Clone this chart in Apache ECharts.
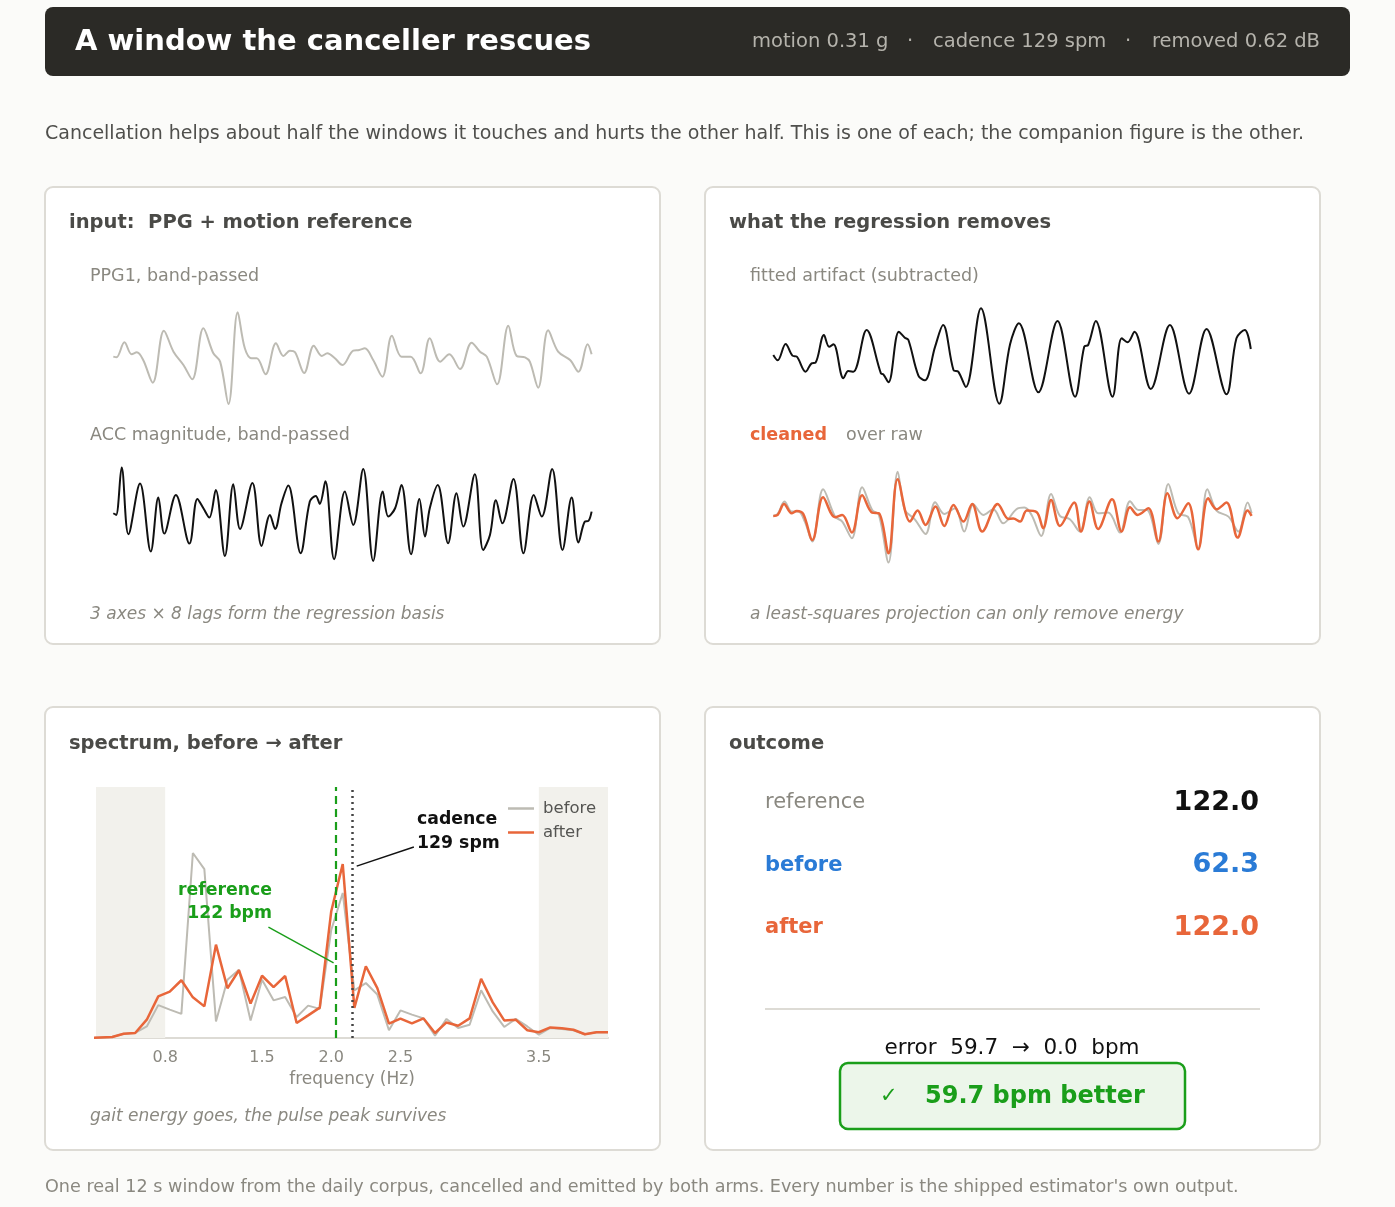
<!DOCTYPE html>
<html>
<head>
<meta charset="utf-8">
<script src="https://cdn.jsdelivr.net/npm/echarts@6/dist/echarts.min.js"></script>
<style>
  html, body { margin: 0; padding: 0; background: #fbfbf9; }
  #main { width: 1395px; height: 1207px; }
</style>
</head>
<body>
<div id="main"></div>
<script>
// time traces: [seconds, normalised amplitude] at each turning point
const ppg = [[0.00,0.00],[0.08,-0.02],[0.28,0.43],[0.46,0.07],[0.59,0.13],[0.75,-0.10],[0.99,-0.78],[1.27,0.78],[1.51,0.15],[1.76,-0.25],[1.98,-0.68],[2.26,0.85],[2.51,0.10],[2.68,-0.15],[2.89,-1.42],[3.12,1.33],[3.30,0.25],[3.47,-0.05],[3.60,-0.05],[3.82,-0.53],[4.08,0.40],[4.27,0.02],[4.43,0.18],[4.56,0.13],[4.79,-0.49],[5.03,0.33],[5.23,0.02],[5.37,0.10],[5.56,-0.05],[5.75,-0.25],[6.02,0.18],[6.17,0.20],[6.31,0.25],[6.52,-0.10],[6.75,-0.60],[6.99,0.63],[7.23,0.00],[7.46,0.00],[7.71,-0.50],[7.94,0.55],[8.20,-0.15],[8.43,0.07],[8.70,-0.37],[8.99,0.42],[9.20,0.15],[9.37,0.00],[9.63,-0.83],[9.91,0.93],[10.12,0.02],[10.33,-0.02],[10.45,-0.15],[10.66,-0.93],[10.91,0.79],[11.16,0.15],[11.46,-0.10],[11.67,-0.45],[11.90,0.37],[12.00,0.07]];
const acc = [[0.00,0.00],[0.07,-0.05],[0.21,1.37],[0.38,-0.63],[0.67,0.89],[0.94,-1.15],[1.13,0.47],[1.28,-0.61],[1.57,0.55],[1.91,-0.91],[2.11,0.43],[2.26,0.15],[2.41,-0.13],[2.57,0.70],[2.80,-1.28],[3.01,0.87],[3.18,-0.47],[3.49,0.91],[3.72,-0.98],[3.93,-0.05],[4.06,-0.47],[4.22,0.30],[4.39,0.83],[4.70,-1.20],[4.93,0.35],[5.08,0.52],[5.18,0.28],[5.32,0.96],[5.54,-1.38],[5.81,0.65],[6.02,-0.35],[6.27,1.33],[6.52,-1.43],[6.76,0.65],[6.90,-0.10],[7.07,0.15],[7.23,0.85],[7.47,-1.23],[7.68,0.43],[7.82,-0.70],[7.94,0.15],[8.14,0.85],[8.40,-0.90],[8.61,0.60],[8.78,-0.40],[9.07,1.17],[9.28,-1.10],[9.45,-0.65],[9.60,0.39],[9.76,-0.30],[10.04,1.03],[10.29,-1.20],[10.55,0.55],[10.75,-0.10],[11.01,1.33],[11.27,-1.10],[11.50,0.47],[11.67,-0.88],[11.83,-0.25],[11.92,-0.23],[12.00,0.05]];
const fitted = [[0.00,0.05],[0.11,-0.11],[0.31,0.38],[0.48,0.03],[0.59,0.00],[0.81,-0.45],[0.96,-0.20],[1.06,-0.18],[1.27,0.65],[1.40,0.30],[1.51,0.37],[1.76,-0.65],[1.88,-0.43],[2.01,-0.45],[2.34,0.80],[2.70,-0.50],[2.76,-0.53],[2.89,-0.77],[3.15,0.75],[3.30,0.57],[3.39,0.50],[3.64,-0.57],[3.80,-0.71],[4.06,0.30],[4.26,0.95],[4.52,-0.40],[4.64,-0.45],[4.83,-0.91],[5.21,1.45],[5.67,-1.41],[5.94,0.37],[6.16,1.00],[6.65,-1.07],[7.13,1.07],[7.57,-1.20],[7.80,0.30],[7.90,0.35],[8.09,1.07],[8.51,-1.20],[8.74,0.55],[8.89,0.43],[9.06,0.75],[9.47,-0.97],[9.95,0.95],[10.43,-1.11],[10.87,0.83],[11.37,-1.13],[11.62,0.55],[11.83,0.80],[11.98,0.23]];
const raw = [[0.00,0.00],[0.11,0.06],[0.28,0.43],[0.46,0.13],[0.63,0.13],[0.79,-0.17],[0.98,-0.77],[1.25,0.80],[1.55,-0.02],[1.73,-0.17],[1.97,-0.67],[2.23,0.86],[2.48,0.18],[2.65,0.03],[2.89,-1.40],[3.12,1.33],[3.30,0.18],[3.55,-0.10],[3.82,-0.54],[4.06,0.41],[4.29,0.06],[4.56,0.23],[4.79,-0.47],[5.02,0.35],[5.27,0.03],[5.52,0.20],[5.77,-0.22],[6.10,0.20],[6.30,0.25],[6.48,0.03],[6.72,-0.60],[6.97,0.66],[7.19,0.00],[7.44,-0.10],[7.69,-0.47],[7.94,0.56],[8.15,0.08],[8.40,0.10],[8.70,-0.50],[8.95,0.44],[9.16,0.18],[9.37,0.18],[9.66,-0.84],[9.91,0.96],[10.16,0.08],[10.41,-0.04],[10.66,-0.97],[10.89,0.80],[11.12,0.16],[11.42,-0.02],[11.67,-0.47],[11.90,0.40],[12.00,0.08]];
const cleaned = [[0.00,0.00],[0.11,0.03],[0.27,0.36],[0.46,0.08],[0.59,0.15],[0.75,0.06],[0.98,-0.72],[1.25,0.56],[1.55,-0.04],[1.73,0.03],[1.97,-0.50],[2.23,0.62],[2.48,0.10],[2.65,0.08],[2.89,-1.12],[3.12,1.10],[3.43,-0.17],[3.62,0.16],[3.82,-0.27],[4.07,0.28],[4.29,-0.30],[4.52,0.33],[4.77,-0.17],[4.99,0.36],[5.24,-0.47],[5.63,0.36],[5.90,-0.09],[6.02,-0.08],[6.19,-0.17],[6.36,0.16],[6.61,0.11],[6.77,-0.37],[6.97,0.48],[7.19,-0.30],[7.55,0.40],[7.72,-0.47],[7.93,0.43],[8.15,-0.39],[8.50,0.50],[8.74,-0.47],[8.95,0.26],[9.14,0.03],[9.41,0.23],[9.66,-0.77],[9.89,0.68],[10.14,-0.07],[10.41,0.38],[10.66,-1.00],[10.91,0.53],[11.12,0.20],[11.37,0.40],[11.65,-0.65],[11.90,0.16],[12.00,0.00]];

// spectrum: 1/12 Hz bins, power in % of the panel height
const freqs = [0.25,0.333,0.417,0.5,0.583,0.667,0.75,0.833,0.917,1.0,1.083,1.167,1.25,1.333,1.417,1.5,1.583,1.667,1.75,1.833,1.917,2.0,2.083,2.167,2.25,2.333,2.417,2.5,2.583,2.667,2.75,2.833,2.917,3.0,3.083,3.167,3.25,3.333,3.417,3.5,3.583,3.667,3.75,3.833,3.917,4.0];
const before = [0,0.2,0.4,1.7,2.0,4.6,13.1,11.3,9.6,73.7,67.3,6.6,23.2,27.2,7.0,23.2,15.0,16.3,8.4,12.9,11.6,43.0,57.8,19.0,21.9,17.3,3.1,11.0,9.3,7.8,0.9,7.6,4.0,5.3,19.0,10.6,4.4,7.6,4.6,1.3,4.0,3.6,3.1,1.5,2.3,2.3];
const after = [0,0.2,0.4,1.7,2.0,7.3,16.6,18.5,23.0,16.2,12.6,37.2,19.8,27.0,13.7,24.8,20.3,24.7,6.0,9.0,12.1,50.5,69.3,12.0,28.6,19.9,5.7,7.7,5.8,7.8,2.0,6.2,4.9,7.8,23.6,14.2,7.0,7.3,3.1,2.3,4.2,3.9,3.3,1.5,2.3,2.3];
const freqTicks = [0.8, 1.5, 2.0, 2.5, 3.5];
const refHz = 122 / 60;
const cadenceHz = 129 / 60;

// outcome numbers
const outcome = { reference: '122.0', before: '62.3', after: '122.0' };
const errBefore = '59.7', errAfter = '0.0', gain = '59.7';

const FONT = '"DejaVu Sans", sans-serif';
const INK = '#4a4a47';
const MUTED = '#8a8880';
const ORANGE = '#e8663a';
const GREEN = '#1a9e1a';
const BLUE = '#2a7bd6';
const GRAYLINE = '#bdbbb3';

const chart = echarts.init(document.getElementById('main'), null, { renderer: 'canvas' });

function txt(x, y, text, opt) {
  opt = opt || {};
  return {
    type: 'text', x: x, y: y, z: 5, silent: true,
    style: {
      text: text,
      fill: opt.fill || INK,
      font: (opt.style || 'normal') + ' ' + (opt.weight || 'normal') + ' ' + (opt.size || 17) + 'px ' + FONT,
      align: opt.align || 'left',
      verticalAlign: 'middle'
    }
  };
}
function card(x, y, w, h) {
  return { type: 'rect', z: 0, silent: true, shape: { x: x, y: y, width: w, height: h, r: 8 },
    style: { fill: '#ffffff', stroke: '#dddbd5', lineWidth: 2 } };
}

const graphics = [
  { type: 'rect', z: 0, silent: true, shape: { x: 45, y: 7, width: 1305, height: 69, r: 8 }, style: { fill: '#2b2a26' } },
  txt(75, 42, 'A window the canceller rescues', { fill: '#ffffff', weight: 'bold', size: 29 }),
  txt(752, 42, 'motion 0.31 g', { fill: '#b5b3ac', size: 19.5 }),
  txt(910, 42, '·', { fill: '#b5b3ac', size: 19.5, align: 'center' }),
  txt(933, 42, 'cadence 129 spm', { fill: '#b5b3ac', size: 19.5 }),
  txt(1128, 42, '·', { fill: '#b5b3ac', size: 19.5, align: 'center' }),
  txt(1320, 42, 'removed 0.62 dB', { fill: '#b5b3ac', size: 19.5, align: 'right' }),
  txt(45, 134, 'Cancellation helps about half the windows it touches and hurts the other half. This is one of each; the companion figure is the other.', { fill: '#4f4f4c', size: 19 }),

  card(45, 187, 615, 457), card(705, 187, 615, 457),
  card(45, 707, 615, 443), card(705, 707, 615, 443),

  txt(69, 223, 'input:  PPG + motion reference', { weight: 'bold', size: 19.5 }),
  txt(90, 276, 'PPG1, band-passed', { fill: MUTED, size: 17.5 }),
  txt(90, 435, 'ACC magnitude, band-passed', { fill: MUTED, size: 17.5 }),
  txt(90, 615, '3 axes × 8 lags form the regression basis', { fill: MUTED, size: 17, style: 'italic' }),

  txt(729, 223, 'what the regression removes', { weight: 'bold', size: 19.5 }),
  txt(750, 276, 'fitted artifact (subtracted)', { fill: MUTED, size: 17.5 }),
  txt(750, 435, 'cleaned', { fill: ORANGE, size: 17.5, weight: 'bold' }),
  txt(846, 435, 'over raw', { fill: MUTED, size: 17.5 }),
  txt(750, 615, 'a least-squares projection can only remove energy', { fill: MUTED, size: 17, style: 'italic' }),

  txt(69, 744, 'spectrum, before → after', { weight: 'bold', size: 19.5 }),
  txt(90, 1117, 'gait energy goes, the pulse peak survives', { fill: MUTED, size: 17, style: 'italic' }),
  txt(272, 891, 'reference', { fill: GREEN, weight: 'bold', size: 17.3, align: 'right' }),
  txt(272, 914, '122 bpm', { fill: GREEN, weight: 'bold', size: 17.3, align: 'right' }),
  txt(417, 820, 'cadence', { fill: '#111111', weight: 'bold', size: 17.3 }),
  txt(417, 844, '129 spm', { fill: '#111111', weight: 'bold', size: 17.3 }),

  txt(729, 744, 'outcome', { weight: 'bold', size: 19.5 }),
  txt(765, 803, 'reference', { fill: MUTED, size: 21 }),
  txt(1259, 803, outcome.reference, { fill: '#111111', size: 27, weight: 'bold', align: 'right' }),
  txt(765, 866, 'before', { fill: BLUE, size: 21, weight: 'bold' }),
  txt(1259, 865, outcome.before, { fill: BLUE, size: 27, weight: 'bold', align: 'right' }),
  txt(765, 928, 'after', { fill: ORANGE, size: 21, weight: 'bold' }),
  txt(1259, 928, outcome.after, { fill: ORANGE, size: 27, weight: 'bold', align: 'right' }),
  { type: 'line', z: 1, silent: true, shape: { x1: 765, y1: 1009, x2: 1260, y2: 1009 }, style: { stroke: '#dddbd5', lineWidth: 2 } },
  txt(1012, 1048, 'error  ' + errBefore + '  →  ' + errAfter + '  bpm', { fill: '#111111', size: 21.5, align: 'center' }),
  { type: 'rect', z: 1, silent: true, shape: { x: 840, y: 1063, width: 345, height: 66, r: 8 }, style: { fill: '#ecf6ea', stroke: GREEN, lineWidth: 2.5 } },
  txt(880, 1097, '✓', { fill: GREEN, size: 21 }),
  txt(925, 1097, gain + ' bpm better', { fill: GREEN, size: 24, weight: 'bold' }),

  txt(45, 1187, "One real 12 s window from the daily corpus, cancelled and emitted by both arms. Every number is the shipped estimator's own output.", { fill: MUTED, size: 17.6 })
];

// trace grids: 12 s across, ±2 units tall
function traceGrid(left, centerY) {
  return { left: left, top: centerY - 66.7, width: 478.3, height: 133.3, containLabel: false };
}
const grids = [
  traceGrid(113.3, 356.7),
  traceGrid(113.3, 513.3),
  traceGrid(773.3, 356.7),
  traceGrid(773.3, 516),
  { left: 96, top: 787, width: 512, height: 251, containLabel: false }
];
const xAxes = [0, 1, 2, 3].map(i => ({ type: 'value', gridIndex: i, min: 0, max: 12, show: false }));
const yAxes = [0, 1, 2, 3].map(i => ({ type: 'value', gridIndex: i, min: -2, max: 2, show: false }));
xAxes.push({
  type: 'value', gridIndex: 4, min: 0.3, max: 4.0,
  name: 'frequency (Hz)', nameLocation: 'middle', nameGap: 33,
  nameTextStyle: { color: MUTED, fontSize: 17, fontFamily: FONT },
  axisLine: { lineStyle: { color: '#dddbd5', width: 2 } },
  axisTick: { show: false },
  splitLine: { show: false },
  axisLabel: { color: MUTED, fontSize: 16, fontFamily: FONT, margin: 12,
    customValues: freqTicks, formatter: v => v.toFixed(1) }
});
yAxes.push({ type: 'value', gridIndex: 4, min: 0, max: 100, show: false });

function trace(i, data, color, width, name) {
  return { type: 'line', name: name, xAxisIndex: i, yAxisIndex: i, data: data, smooth: 0.35,
    showSymbol: false, silent: true, lineStyle: { color: color, width: width } };
}

const series = [
  trace(0, ppg, GRAYLINE, 2, 'ppg'),
  trace(1, acc, '#111111', 2, 'acc'),
  trace(2, fitted, '#111111', 2, 'fitted'),
  trace(3, raw, GRAYLINE, 2, 'raw'),
  trace(3, cleaned, ORANGE, 2.5, 'cleaned'),
  {
    type: 'line', name: 'band', xAxisIndex: 4, yAxisIndex: 4, data: [], z: 1, silent: true,
    markArea: { silent: true, itemStyle: { color: '#f2f1ec' },
      data: [[{ xAxis: 0.3 }, { xAxis: 0.8 }], [{ xAxis: 3.5 }, { xAxis: 4.0 }]] }
  },
  {
    type: 'line', name: 'before', xAxisIndex: 4, yAxisIndex: 4, z: 3,
    data: freqs.map((f, i) => [f, before[i]]), showSymbol: false, silent: true,
    lineStyle: { color: GRAYLINE, width: 2 }, itemStyle: { color: GRAYLINE }
  },
  {
    type: 'line', name: 'after', xAxisIndex: 4, yAxisIndex: 4, z: 4,
    data: freqs.map((f, i) => [f, after[i]]), showSymbol: false, silent: true,
    lineStyle: { color: ORANGE, width: 2.5 }, itemStyle: { color: ORANGE },
    markLine: {
      silent: true, symbol: 'none', label: { show: false },
      data: [
        { xAxis: refHz, lineStyle: { color: GREEN, type: [8, 5], width: 2.2 } },
        { xAxis: cadenceHz, lineStyle: { color: '#444444', type: [2, 4], width: 2.5 } },
        [{ coord: [1.546, 44.2], lineStyle: { color: GREEN, type: 'solid', width: 1.4 } }, { coord: [2.017, 29.9] }],
        [{ coord: [2.597, 76.1], lineStyle: { color: '#111111', type: 'solid', width: 1.4 } }, { coord: [2.184, 68.5] }]
      ]
    }
  }
];

chart.setOption({
  backgroundColor: '#fbfbf9',
  animation: false,
  textStyle: { fontFamily: FONT },
  legend: {
    data: ['before', 'after'], orient: 'vertical', left: 503, top: 795,
    icon: 'rect', itemWidth: 26, itemHeight: 2.5, itemGap: 7,
    textStyle: { color: '#555552', fontSize: 16.5, fontFamily: FONT, padding: [0, 0, 0, 4] },
    selectedMode: false
  },
  grid: grids,
  xAxis: xAxes,
  yAxis: yAxes,
  series: series,
  graphic: graphics
});
</script>
</body>
</html>
